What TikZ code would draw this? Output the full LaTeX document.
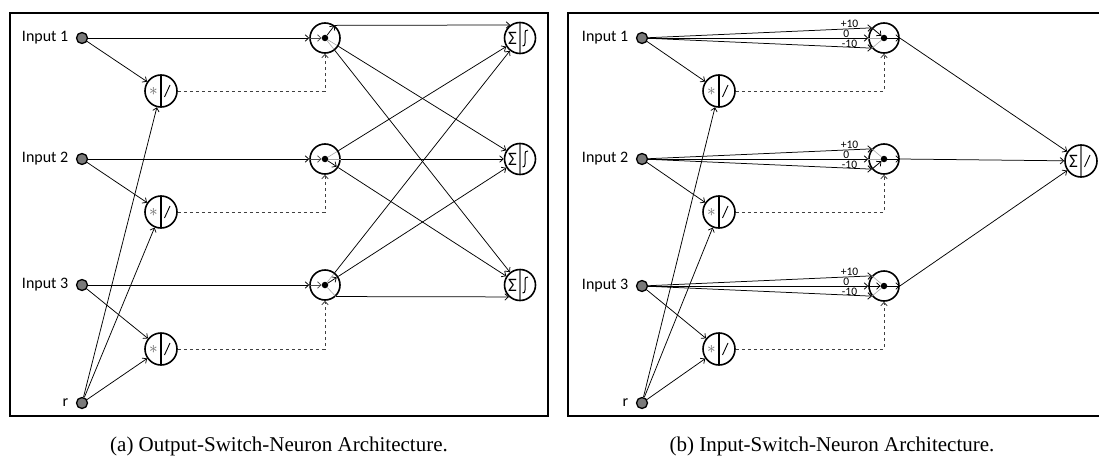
\documentclass[tikz,border=0pt]{standalone}
\usepackage{fontspec}
\setmainfont{Liberation Serif}
\newfontfamily\lblfont{Carlito}
\usetikzlibrary{arrows.meta,calc}

\tikzset{
  frame/.style={draw, line width=1.7pt},
  arr/.style={-{Straight Barb[length=3.5pt,width=6.5pt]}, line width=0.75pt},
  dsh/.style={dash pattern=on 3.5pt off 2.5pt, line width=0.8pt, draw=black!75},
  faint/.style={line width=0.6pt, draw=black!35},
  lbl/.style={font=\lblfont\fontsize{16}{18}\selectfont, label distance=4pt},
  wlbl/.style={font=\lblfont\fontsize{11.5}{12}\selectfont, inner sep=0pt, anchor=center},
  captext/.style={font=\fontsize{21}{24}\selectfont, inner sep=0},
  inp/.style={circle, draw, line width=1.3pt, fill=black!52, minimum size=11pt, inner sep=0},
  dot/.style={circle, fill, minimum size=6.5pt, inner sep=0},
  sw/.style={circle, draw, line width=1.6pt, minimum size=30pt, inner sep=0},
  mult/.style={circle, draw, line width=1.6pt, minimum size=32pt, inner sep=0,
    path picture={
      \draw[line width=1.1pt] (path picture bounding box.north) -- (path picture bounding box.south);
      \node[text=black!60, inner sep=0, font=\fontsize{17}{18}\selectfont] at ($(path picture bounding box.center)+(-7.5,0)$) {$\ast$};
      \draw[line width=0.9pt] ($(path picture bounding box.center)+(3.5,6)$) -- ($(path picture bounding box.center)+(9,-6)$);
    }},
  outa/.style={circle, draw, line width=1.6pt, minimum size=31pt, inner sep=0,
    path picture={
      \draw[line width=1.1pt, black!55] (path picture bounding box.north) -- (path picture bounding box.south);
      \node[font=\lblfont\fontsize{19}{20}\selectfont, inner sep=0] at ($(path picture bounding box.center)+(-7.5,0)$) {Σ};
      \draw[line width=1pt] ($(path picture bounding box.center)+(2.5,8)$) .. controls ($(path picture bounding box.center)+(4.5,8)$) and ($(path picture bounding box.center)+(5,7)$) .. ($(path picture bounding box.center)+(5,5)$) -- ($(path picture bounding box.center)+(5,-5)$) .. controls ($(path picture bounding box.center)+(5,-7)$) and ($(path picture bounding box.center)+(5.5,-8)$) .. ($(path picture bounding box.center)+(8,-8)$);
    }},
  outb/.style={circle, draw, line width=1.6pt, minimum size=32pt, inner sep=0,
    path picture={
      \draw[line width=1.1pt, black!55] (path picture bounding box.north) -- (path picture bounding box.south);
      \node[font=\lblfont\fontsize{19}{20}\selectfont, inner sep=0] at ($(path picture bounding box.center)+(-7.5,0)$) {Σ};
      \draw[line width=0.9pt] ($(path picture bounding box.center)+(3.5,6)$) -- ($(path picture bounding box.center)+(9,-6)$);
    }},
}

\begin{document}
\begin{tikzpicture}[x=1pt,y=-1pt]
\useasboundingbox (0,0) rectangle (1099,460);

% panel frames
\draw[frame] (10,13) rectangle (548,416);
\draw[frame] (568,13) rectangle (1102,416);

% ---------------- (a) output switch neurons ----------------
\foreach \k/\yy/\my in {1/38/91, 2/159/212, 3/285/349} {
  \node[inp, label={[lbl]left:Input \k}] (ai\k) at (82,\yy) {};
  \node[mult] (am\k) at (161,\my) {};
  \node[sw] (as\k) at (325,\yy) {};
  \node[dot] (ad\k) at (325,\yy) {};
  \node[outa] (ao\k) at (520,\yy) {};
}
\node[inp, label={[lbl]left:r}] (ar) at (82,403) {};

\foreach \k in {1,2,3} {
  \draw[arr] (ai\k) -- (as\k);
  \draw[arr, black!70] (as\k.west) -- (ad\k);
  \draw[arr] (ai\k) -- (am\k);
  \draw[arr] (ar) -- (am\k);
  \draw[arr, dsh] (am\k.east) -| (as\k.south);
}

% switch outputs to the summing units
\draw[arr] (as1.53) -- (ao1.127);
\draw[arr] (as1) -- (ao2);
\draw[arr] (as1) -- (ao3);
\draw[arr] (as2) -- (ao1);
\draw[arr] (as2) -- (ao2);
\draw[arr] (as2) -- (ao3);
\draw[arr] (as3) -- (ao1);
\draw[arr] (as3) -- (ao2);
\draw[arr] (as3.-47) -- (ao3.-133);

% internal switch routing
\draw[arr] (ad1) -- (as1.53);
\draw[faint] (ad1) -- ($(as1)!14pt!(ao2)$);
\draw[faint] (ad1) -- ($(as1)!14pt!(ao3)$);
\draw[arr] (ad2) -- ($(as2)!14pt!(ao3)$);
\draw[faint] (ad2) -- (as2.east);
\draw[faint] (ad2) -- ($(as2)!14pt!(ao1)$);
\draw[arr] (ad3) -- ($(as3)!14pt!(ao2)$);
\draw[faint] (ad3) -- ($(as3)!14pt!(ao1)$);
\draw[faint] (ad3) -- (as3.-47);

% ---------------- (b) input switch neurons ----------------
\node[outb] (bo) at (1081,161) {};
\foreach \k/\yy/\my in {1/38/91, 2/159/212, 3/286/349} {
  \node[inp, label={[lbl]left:Input \k}] (bi\k) at (642,\yy) {};
  \node[mult] (bm\k) at (719,\my) {};
  \node[sw] (bs\k) at (884,\yy) {};
  \node[dot] (bd\k) at (884,\yy) {};
}
\node[inp, label={[lbl]left:r}] (br) at (642,403) {};

\foreach \k in {1,2,3} {
  \draw[arr] (bi\k) -- (bs\k.140) node[wlbl, pos=0.9, yshift=5.5pt] {+10};
  \draw[arr] (bi\k) -- (bs\k.west) node[wlbl, pos=0.9, yshift=4pt] {0};
  \draw[arr] (bi\k) -- (bs\k.220) node[wlbl, pos=0.9, yshift=3pt] {-10};
  \draw[faint] (bs\k.140) -- (bd\k);
  \draw[faint] (bs\k.west) -- (bd\k);
  \draw[faint] (bs\k.220) -- (bd\k);
  \draw[arr] (bd\k) -- (bs\k.east);
  \draw[arr] (bi\k) -- (bm\k);
  \draw[arr] (br) -- (bm\k);
  \draw[arr, dsh] (bm\k.east) -| (bs\k.south);
  \draw[arr] (bs\k.east) -- (bo);
}
\draw[arr] (bs1.140) -- (bd1);
\draw[arr] (bs2.220) -- (bd2);
\draw[arr] (bs3.west) -- (bd3);

% captions
\node[captext] at (279,446) {(a) Output-Switch-Neuron Architecture.};
\node[captext] at (832,446) {(b) Input-Switch-Neuron Architecture.};
\end{tikzpicture}
\end{document}
